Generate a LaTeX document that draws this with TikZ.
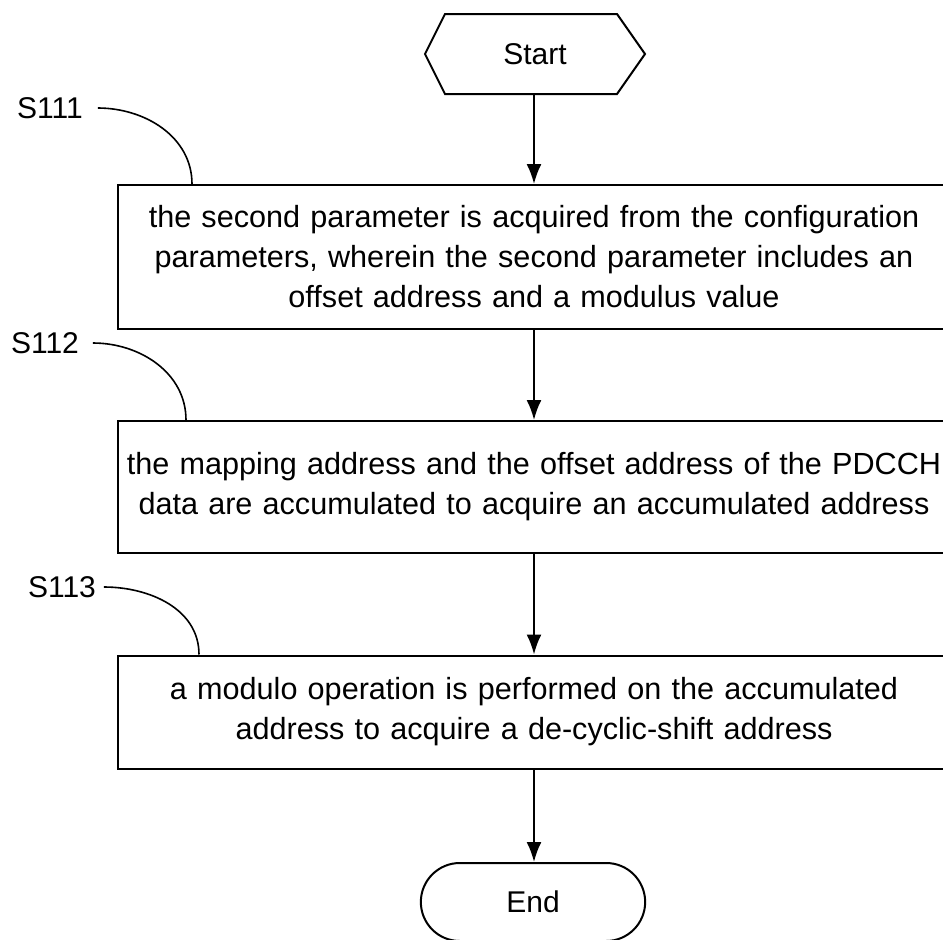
\documentclass[tikz,border=0pt]{standalone}
\usepackage{fontspec}
\setmainfont{Liberation Sans}
\usetikzlibrary{arrows.meta,shapes.misc}
\begin{document}
\begin{tikzpicture}[x=1pt,y=-1pt,line width=2pt,
    font=\fontsize{30}{40}\selectfont,
    box/.style={draw,inner xsep=0pt,text width=832,align=center,font=\fontsize{30.6}{40}\selectfont},
    tag/.style={inner sep=0pt},
    flow/.style={-{Latex[length=20pt,width=15pt]}}]
  \useasboundingbox (0,0) rectangle (943,940);
  \clip (0,0) rectangle (943,940);
  \draw
    (535,54) node[minimum width=218,minimum height=78] (start) {Start}
    (534,257) node[box,minimum height=144] (s111) {the second parameter is acquired from the configuration\\parameters, wherein the second parameter includes an\\offset address and a modulus value}
    (534,487) node[box,minimum height=132] (s112) {the mapping address and the offset address of the PDCCH\\data are accumulated to acquire an accumulated address}
    (534,712) node[box,minimum height=113] (s113) {a modulo operation is performed on the accumulated\\address to acquire a de-cyclic-shift address}
    (533,902) node[draw,rounded rectangle,minimum width=231,minimum height=78] (end) {End};
  \draw (start.west) -- ([xshift=20]start.north west) -- ([xshift=-28]start.north east)
    -- (start.east) -- ([xshift=-28]start.south east) -- ([xshift=20]start.south west) -- cycle;
  \node[tag] (l111) at (50,108) {S111};
  \node[tag] (l112) at (45,343) {S112};
  \node[tag] (l113) at (62,587) {S113};
  \begin{scope}[flow]
    \draw (start.south -| s111.north) -- (s111.north);
    \draw (s111) -- (s112);
    \draw (s112) -- (s113);
    \draw (s113) -- (end.north -| s113.south);
  \end{scope}
  \begin{scope}[line width=1.6pt]
    \draw ([xshift=14]l111.east) to[out=0,in=90] ([xshift=75]s111.north west);
    \draw ([xshift=13]l112.east) to[out=0,in=90] ([xshift=69]s112.north west);
    \draw ([xshift=7]l113.east) to[out=0,in=90] ([xshift=82]s113.north west);
  \end{scope}
\end{tikzpicture}
\end{document}
